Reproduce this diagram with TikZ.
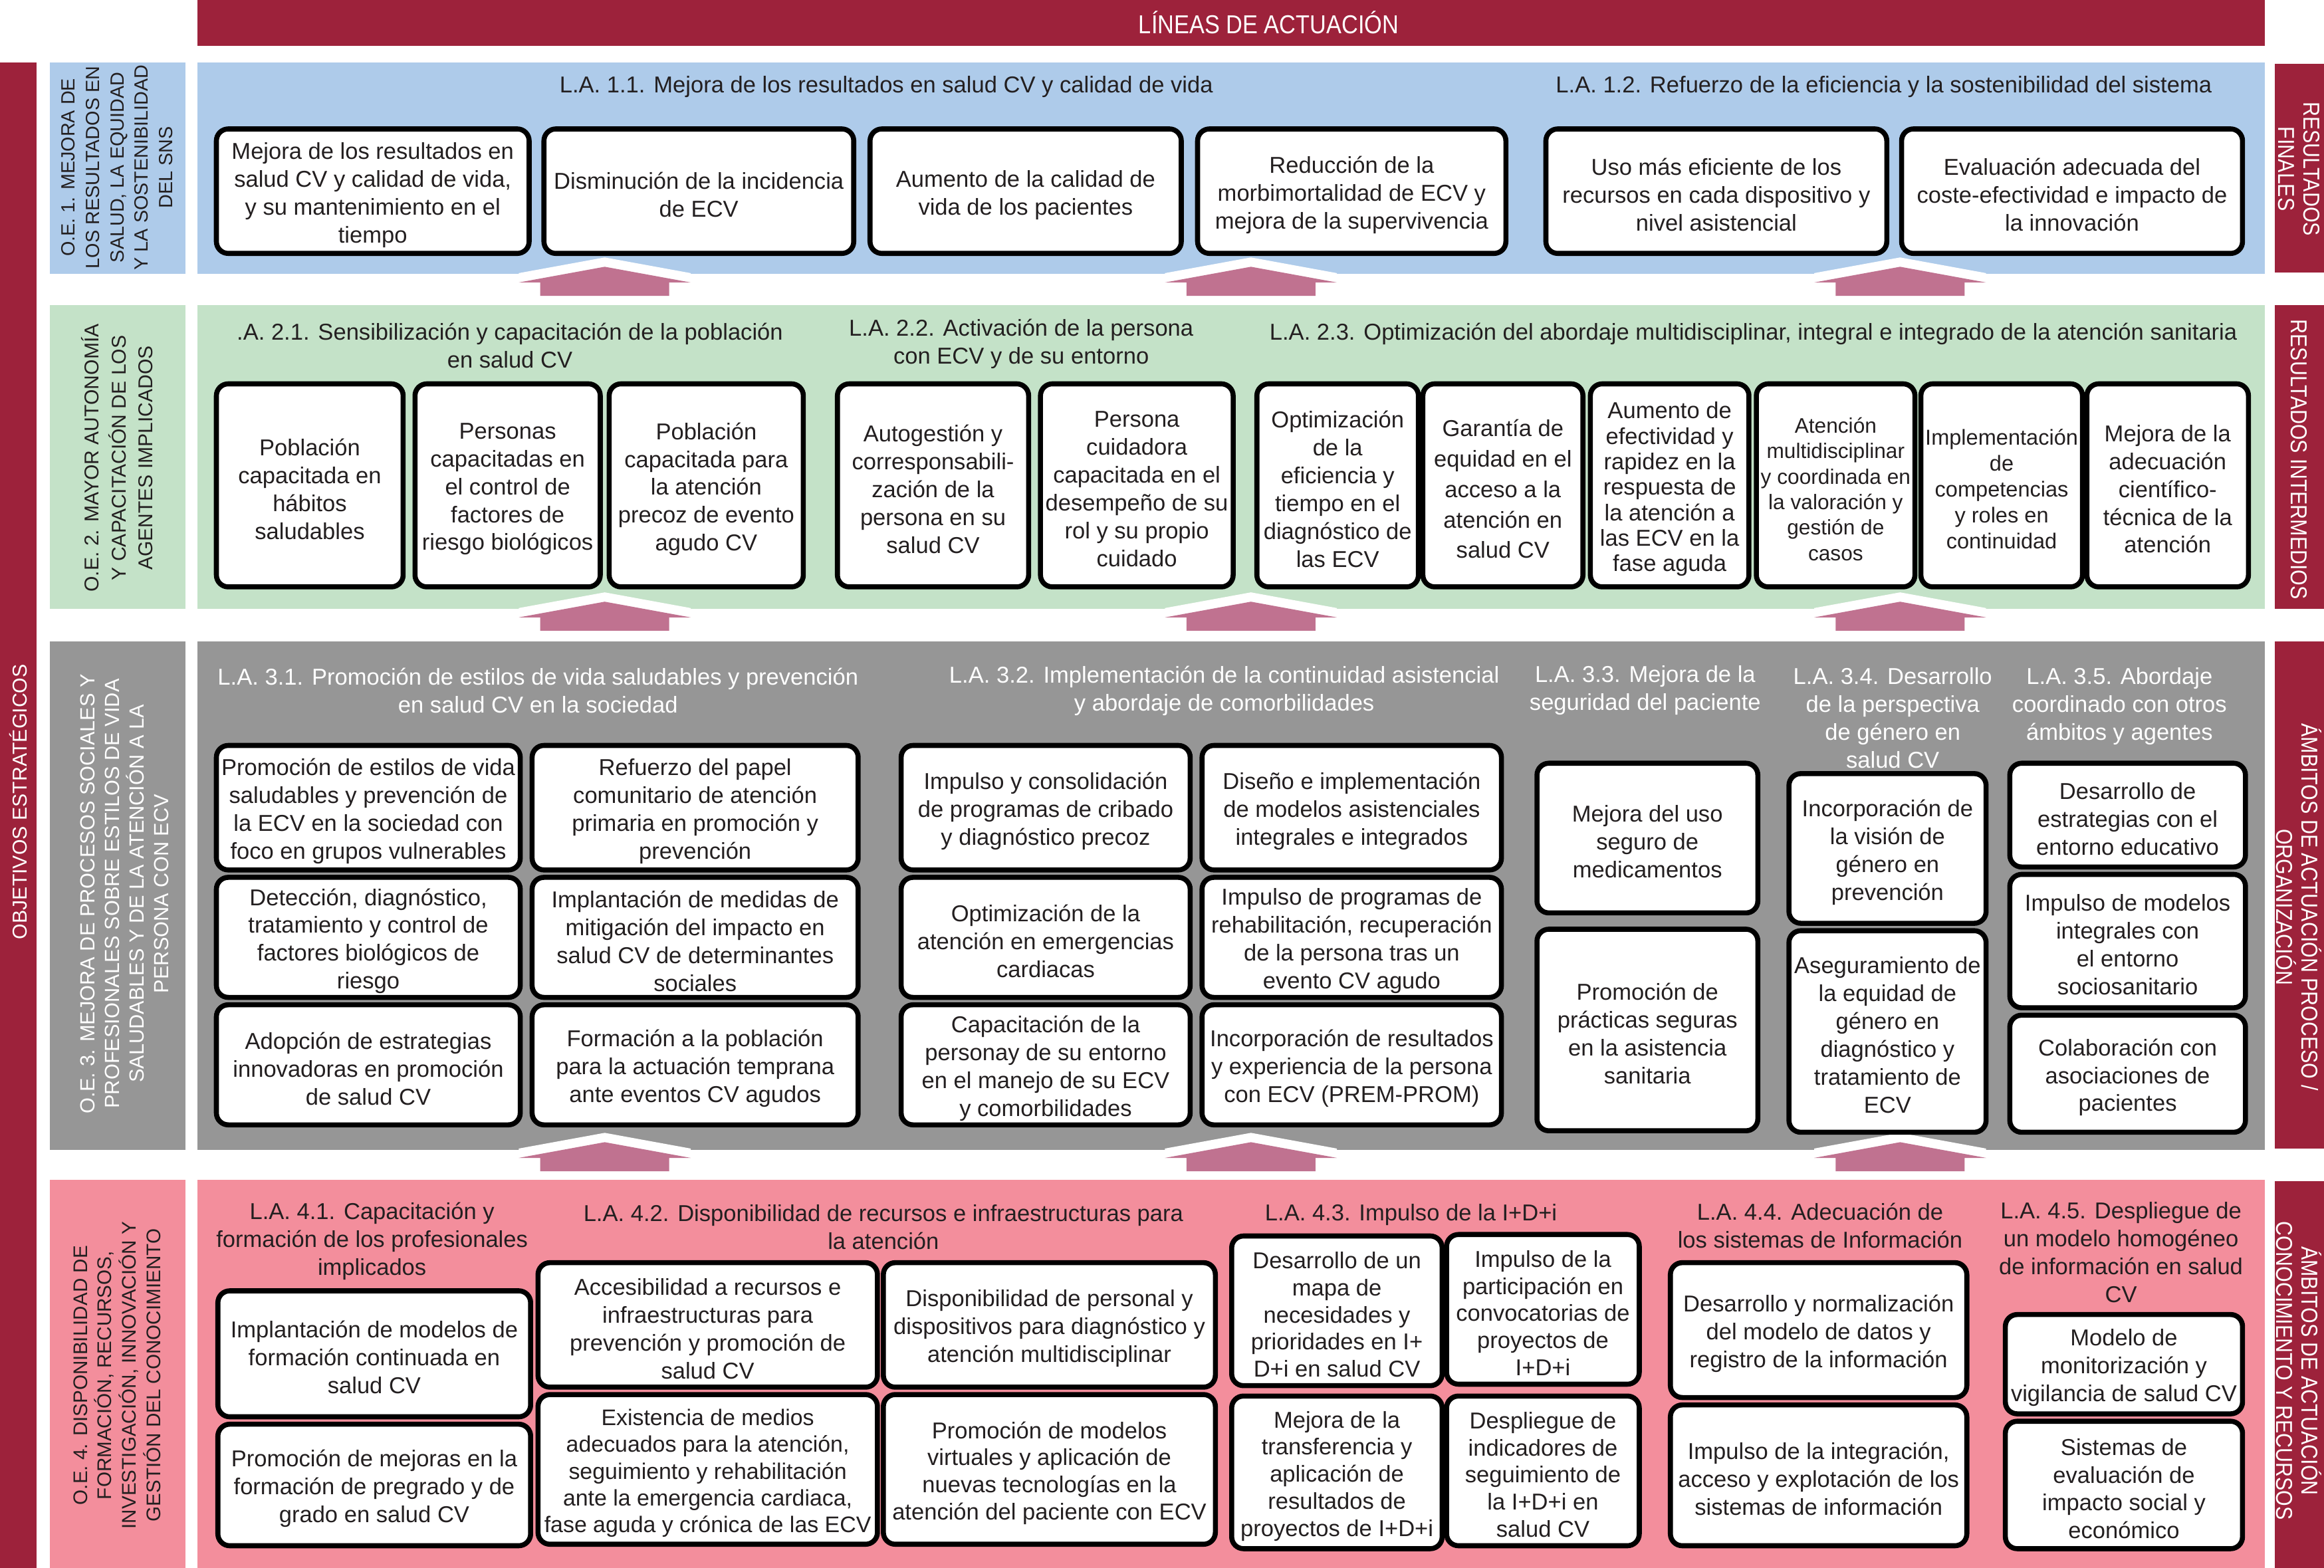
\documentclass[tikz,border=0pt]{standalone}
\usepackage{fontspec}
\setmainfont{Liberation Sans}
\newfontfamily\condfont[FakeStretch=0.88]{Liberation Sans}
\definecolor{dred}{RGB}{157,34,59}
\definecolor{bblue}{RGB}{174,203,234}
\definecolor{bgreen}{RGB}{196,226,200}
\definecolor{bgray}{RGB}{150,150,150}
\definecolor{bpink}{RGB}{243,142,156}
\definecolor{apink}{RGB}{192,114,144}
\definecolor{ink}{RGB}{35,31,32}
\newcommand{\bx}[7][]{%
  \node[box,minimum width={#5pt-#3pt},minimum height={#6pt-#4pt}] (#2) at ({(#3+#5)/2},{(#4+#6)/2}) {};
  \node[boxtext,#1] (#2t) at ([yshift=-2.5pt]#2.center) {#7};}
\newcommand{\blockarrow}[2]{%
  \fill[white] ({#1-58},{#2-0.7}) -- (#1,{#2-11.3}) -- ({#1+58},{#2-0.7}) -- ({#1+58},{#2+5.6}) -- ({#1-58},{#2+5.6}) -- cycle;
  \fill[apink] ({#1-43.5},{#2+14.6}) -- ({#1-43.5},{#2+5.6}) -- ({#1-58},{#2+5.6}) -- (#1,{#2-5}) -- ({#1+58},{#2+5.6}) -- ({#1+43.5},{#2+5.6}) -- ({#1+43.5},{#2+14.6}) -- cycle;}
\begin{document}
\begin{tikzpicture}[x=1pt,y=-1pt,
  every node/.style={inner sep=0pt, text=ink, font=\fontsize{15.5}{18.8}\selectfont},
  box/.style={draw=black, line width=3.4pt, fill=white, rounded corners=8pt},
  boxtext/.style={align=center},
  hdr/.style={align=center, yshift=-1.5pt},
  whdr/.style={align=center, text=white, yshift=-1.5pt},
  oe/.style={rotate=90, align=center, font=\fontsize{13.3}{16.5}\selectfont},
  side/.style={rotate=-90, align=center, text=white, font=\condfont\fontsize{15.5}{17}\selectfont}]
\useasboundingbox (0,0) rectangle (1568,1058);
\fill[white] (0,0) rectangle (1568,1058);
% frames
\fill[dred] (133,0) rectangle (1528,31);
\fill[dred] (0,42) rectangle (24.7,1058);
\fill[bblue] (33.5,42) rectangle (125,185);
\fill[bgreen] (33.5,206) rectangle (125,411);
\fill[bgray] (33.5,433) rectangle (125,775.7);
\fill[bpink] (33.5,796) rectangle (125,1058);
\fill[bblue] (133,42) rectangle (1528,185);
\fill[bgreen] (133,206) rectangle (1528,411);
\fill[bgray] (133,433) rectangle (1528,775.7);
\fill[bpink] (133,796) rectangle (1528,1058);
\fill[dred] (1535,43) rectangle (1568,184);
\fill[dred] (1535,206) rectangle (1568,411);
\fill[dred] (1535,433) rectangle (1568,775);
\fill[dred] (1535,797) rectangle (1568,1058);
% arrows
\blockarrow{408}{185}\blockarrow{844}{185}\blockarrow{1282}{185}
\blockarrow{408}{411}\blockarrow{844}{411}\blockarrow{1282}{411}
\blockarrow{408}{775.7}\blockarrow{844}{775.7}\blockarrow{1282}{775.7}
% labels
\node[text=white, font=\condfont\fontsize{17.5}{20}\selectfont] (top) at (856,15) {LÍNEAS DE ACTUACIÓN};
\node[rotate=90, text=white, font=\fontsize{13.6}{16}\selectfont] (obj) at (12.3,541) {OBJETIVOS ESTRATÉGICOS};
\node[oe, font=\fontsize{12.9}{16.5}\selectfont] (oe1) at (79,113) {O.E. 1. MEJORA DE\\LOS RESULTADOS EN\\SALUD, LA EQUIDAD\\Y LA SOSTENIBILIDAD\\DEL SNS};
\node[oe, font=\fontsize{13.5}{18}\selectfont] (oe2) at (79,309) {O.E. 2. MAYOR AUTONOMÍA\\Y CAPACITACIÓN DE LOS\\AGENTES IMPLICADOS};
\node[oe, text=white, font=\fontsize{13.8}{16.5}\selectfont] (oe3) at (84,603) {O.E. 3. MEJORA DE PROCESOS SOCIALES Y\\PROFESIONALES SOBRE ESTILOS DE VIDA\\SALUDABLES Y DE LA ATENCIÓN A LA\\PERSONA CON ECV};
\node[oe] (oe4) at (79,928) {O.E. 4. DISPONIBILIDAD DE\\FORMACIÓN, RECURSOS,\\INVESTIGACIÓN, INNOVACIÓN Y\\GESTIÓN DEL CONOCIMIENTO};
\node[side] (r1) at (1551,114) {RESULTADOS\\FINALES};
\node[side] (r2) at (1551,310) {RESULTADOS INTERMEDIOS};
\node[side] (r3) at (1551,612) {ÁMBITOS DE ACTUACIÓN PROCESO /\\ORGANIZACIÓN};
\node[side] (r4) at (1551,925) {ÁMBITOS DE ACTUACIÓN\\CONOCIMIENTO Y RECURSOS};
% band 1
\node[hdr] (h11) at (598,57) {L.A. 1.1. Mejora de los resultados en salud CV y calidad de vida};
\node[hdr] (h12) at (1271,57) {L.A. 1.2. Refuerzo de la eficiencia y la sostenibilidad del sistema};
\bx{b11}{146}{87}{357}{171}{Mejora de los resultados en\\salud CV y calidad de vida,\\y su mantenimiento en el\\tiempo}
\bx{b12}{367}{87}{576}{171}{Disminución de la incidencia\\de ECV}
\bx{b13}{587}{87}{797}{171}{Aumento de la calidad de\\vida de los pacientes}
\bx{b14}{808}{87}{1016}{171}{Reducción de la\\morbimortalidad de ECV y\\mejora de la supervivencia}
\bx{b15}{1043}{87}{1273}{171}{Uso más eficiente de los\\recursos en cada dispositivo y\\nivel asistencial}
\bx{b16}{1283}{87}{1513}{171}{Evaluación adecuada del\\coste-efectividad e impacto de\\la innovación}
% band 2
\node[hdr] (h21) at (344,231.5) {.A. 2.1. Sensibilización y capacitación de la población\\en salud CV};
\node[hdr] (h22) at (689,230.5) {L.A. 2.2. Activación de la persona\\con ECV y de su entorno};
\node[hdr] (h23) at (1183,224) {L.A. 2.3. Optimización del abordaje multidisciplinar, integral e integrado de la atención sanitaria};
\bx{b21}{146}{259}{272}{396}{Población\\capacitada en\\hábitos\\saludables}
\bx{b22}{280}{259}{405}{396}{Personas\\capacitadas en\\el control de\\factores de\\riesgo biológicos}
\bx{b23}{411}{259}{542}{396}{Población\\capacitada para\\la atención\\precoz de evento\\agudo CV}
\bx{b24}{565}{259}{694}{396}{Autogestión y\\corresponsabili-\\zación de la\\persona en su\\salud CV}
\bx{b25}{702}{259}{832}{396}{Persona\\cuidadora\\capacitada en el\\desempeño de su\\rol y su propio\\cuidado}
\bx{b26}{848}{259}{957}{396}{Optimización\\de la\\eficiencia y\\tiempo en el\\diagnóstico de\\las ECV}
\bx[font=\fontsize{15.5}{20.5}\selectfont]{b27}{960}{259}{1068}{396}{Garantía de\\equidad en el\\acceso a la\\atención en\\salud CV}
\bx[font=\fontsize{15.5}{17.2}\selectfont]{b28}{1073}{259}{1180}{396}{Aumento de\\efectividad y\\rapidez en la\\respuesta de\\la atención a\\las ECV en la\\fase aguda}
\bx[font=\fontsize{14.2}{17.2}\selectfont]{b29}{1185}{259}{1292}{396}{Atención\\multidisciplinar\\y coordinada en\\la valoración y\\gestión de\\casos}
\bx[font=\fontsize{14.6}{17.5}\selectfont]{b2a}{1296}{259}{1405}{396}{Implementación\\de\\competencias\\y roles en\\continuidad}
\bx{b2b}{1408}{259}{1517}{396}{Mejora de la\\adecuación\\científico-\\técnica de la\\atención}
% band 3
\node[whdr] (h31) at (363,464.5) {L.A. 3.1. Promoción de estilos de vida saludables y prevención\\en salud CV en la sociedad};
\node[whdr] (h32) at (826,464.5) {L.A. 3.2. Implementación de la continuidad asistencial\\y abordaje de comorbilidades};
\node[whdr] (h33) at (1110,464.5) {L.A. 3.3. Mejora de la\\seguridad del paciente};
\node[whdr] (h34) at (1277,483) {L.A. 3.4. Desarrollo\\de la perspectiva\\de género en\\salud CV};
\node[whdr] (h35) at (1430,475) {L.A. 3.5. Abordaje\\coordinado con otros\\ámbitos y agentes};
\bx{c11}{146}{503}{351}{587}{Promoción de estilos de vida\\saludables y prevención de\\la ECV en la sociedad con\\foco en grupos vulnerables}
\bx{c12}{146}{592}{351}{673}{Detección, diagnóstico,\\tratamiento y control de\\factores biológicos de\\riesgo}
\bx{c13}{146}{678}{351}{759}{Adopción de estrategias\\innovadoras en promoción\\de salud CV}
\bx{c21}{359}{503}{579}{587}{Refuerzo del papel\\comunitario de atención\\primaria en promoción y\\prevención}
\bx{c22}{359}{592}{579}{673}{Implantación de medidas de\\mitigación del impacto en\\salud CV de determinantes\\sociales}
\bx{c23}{359}{678}{579}{759}{Formación a la población\\para la actuación temprana\\ante eventos CV agudos}
\bx{c31}{608}{503}{803}{587}{Impulso y consolidación\\de programas de cribado\\y diagnóstico precoz}
\bx{c32}{608}{592}{803}{673}{Optimización de la\\atención en emergencias\\cardiacas}
\bx{c33}{608}{678}{803}{759}{Capacitación de la\\personay de su entorno\\en el manejo de su ECV\\y comorbilidades}
\bx{c41}{811}{503}{1013}{587}{Diseño e implementación\\de modelos asistenciales\\integrales e integrados}
\bx{c42}{811}{592}{1013}{673}{Impulso de programas de\\rehabilitación, recuperación\\de la persona tras un\\evento CV agudo}
\bx{c43}{811}{678}{1013}{759}{Incorporación de resultados\\y experiencia de la persona\\con ECV (PREM-PROM)}
\bx{c51}{1037}{515}{1186}{616}{Mejora del uso\\seguro de\\medicamentos}
\bx{c52}{1037}{627}{1186}{763}{Promoción de\\prácticas seguras\\en la asistencia\\sanitaria}
\bx{c61}{1207}{522}{1340}{623}{Incorporación de\\la visión de\\género en\\prevención}
\bx{c62}{1207}{628}{1340}{764}{Aseguramiento de\\la equidad de\\género en\\diagnóstico y\\tratamiento de\\ECV}
\bx{c71}{1356}{515}{1515}{585}{Desarrollo de\\estrategias con el\\entorno educativo}
\bx{c72}{1356}{590}{1515}{680}{Impulso de modelos\\integrales con\\el entorno\\sociosanitario}
\bx{c73}{1356}{685}{1515}{764}{Colaboración con\\asociaciones de\\pacientes}
% band 4
\node[hdr] (h41) at (251,836) {L.A. 4.1. Capacitación y\\formación de los profesionales\\implicados};
\node[hdr] (h42) at (596,826.5) {L.A. 4.2. Disponibilidad de recursos e infraestructuras para\\la atención};
\node[hdr] (h43) at (952,818) {L.A. 4.3. Impulso de la I+D+i};
\node[hdr] (h44) at (1228,825.5) {L.A. 4.4. Adecuación de\\los sistemas de Información};
\node[hdr] (h45) at (1431,843.5) {L.A. 4.5. Despliegue de\\un modelo homogéneo\\de información en salud\\CV};
\bx{d11}{147}{871}{358}{956}{Implantación de modelos de\\formación continuada en\\salud CV}
\bx{d12}{147}{961}{358}{1043}{Promoción de mejoras en la\\formación de pregrado y de\\grado en salud CV}
\bx{d21}{363}{852}{592}{936}{Accesibilidad a recursos e\\infraestructuras para\\prevención y promoción de\\salud CV}
\bx{d22}{596}{852}{820}{936}{Disponibilidad de personal y\\dispositivos para diagnóstico y\\atención multidisciplinar}
\bx[font=\fontsize{15.2}{18}\selectfont]{d23}{363}{941}{592}{1042}{Existencia de medios\\adecuados para la atención,\\seguimiento y rehabilitación\\ante la emergencia cardiaca,\\fase aguda y crónica de las ECV}
\bx[font=\fontsize{15.5}{18.3}\selectfont]{d24}{596}{941}{820}{1042}{Promoción de modelos\\virtuales y aplicación de\\nuevas tecnologías en la\\atención del paciente con ECV}
\bx[font=\fontsize{15.5}{18.3}\selectfont]{d31}{831}{834}{973}{935}{Desarrollo de un\\mapa de\\necesidades y\\prioridades en I+\\D+i en salud CV}
\bx[font=\fontsize{15.5}{18.3}\selectfont]{d32}{976}{833}{1106}{934}{Impulso de la\\participación en\\convocatorias de\\proyectos de\\I+D+i}
\bx[font=\fontsize{15.5}{18.3}\selectfont]{d33}{831}{942}{973}{1045}{Mejora de la\\transferencia y\\aplicación de\\resultados de\\proyectos de I+D+i}
\bx[font=\fontsize{15.5}{18.3}\selectfont]{d34}{976}{942}{1106}{1043}{Despliegue de\\indicadores de\\seguimiento de\\la I+D+i en\\salud CV}
\bx{d41}{1127}{852}{1327}{943}{Desarrollo y normalización\\del modelo de datos y\\registro de la información}
\bx{d42}{1127}{948}{1327}{1043}{Impulso de la integración,\\acceso y explotación de los\\sistemas de información}
\bx{d51}{1353}{887}{1513}{954}{Modelo de\\monitorización y\\vigilancia de salud CV}
\bx{d52}{1353}{959}{1513}{1045}{Sistemas de\\evaluación de\\impacto social y\\económico}
\end{tikzpicture}
\end{document}
